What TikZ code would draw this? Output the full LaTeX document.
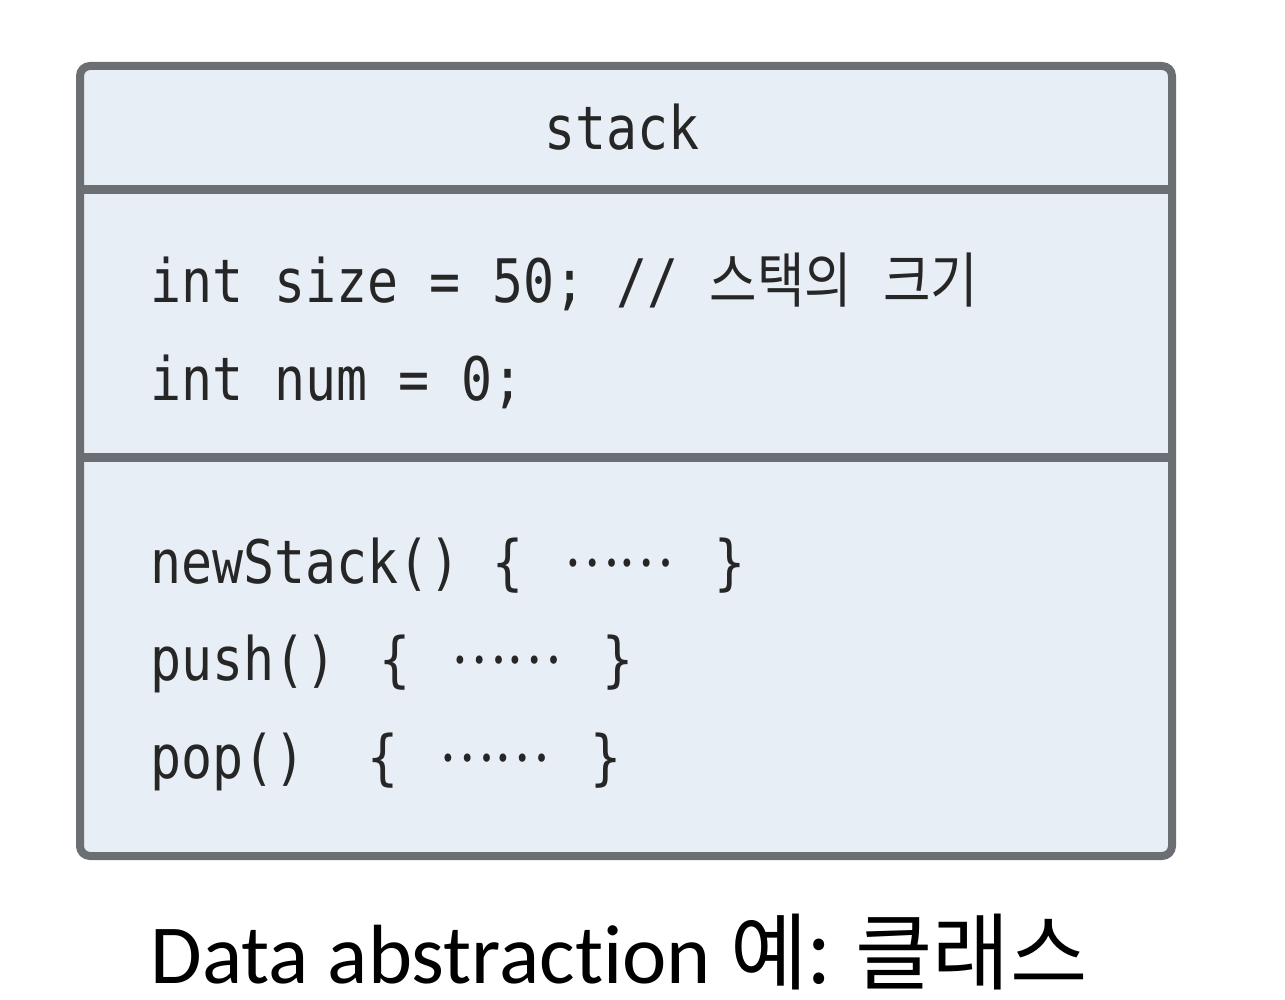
\documentclass[tikz,border=0pt]{standalone}
\usepackage{fontspec}
\setmainfont{Carlito}[Ligatures=NoCommon]
\newfontfamily\codefont[FakeStretch=0.86]{DejaVu Sans Mono}
\newfontfamily\korfont{Noto Sans CJK KR}
\newfontfamily\codekor[FakeStretch=0.86]{Noto Sans CJK KR}
\newcommand{\kr}[1]{{\codekor #1}}
\newcommand{\codedots}{\hspace{5pt}\raisebox{0.28em}{\kr{……}}\hspace{5pt}}

\definecolor{boxfill}{HTML}{E8EEF5}
\definecolor{boxline}{HTML}{6B6E72}
\definecolor{codetext}{HTML}{262626}

\tikzset{
  codeline/.style={anchor=base west, inner sep=0pt, text=codetext,
    font=\fontsize{30}{36}\codefont},
  divider/.style={boxline, line width=4.5pt},
}

\begin{document}
\begin{tikzpicture}[x=0.5pt, y=-0.5pt]
  \useasboundingbox (0,0) rectangle (1285,1000);

  % class box
  \draw[boxline, line width=4pt, fill=boxfill, rounded corners=5pt]
    (80,66) rectangle (1172,856);
  \draw[divider] (80,190) -- (1172,190);
  \draw[divider] (80,457) -- (1172,457);

  % name
  \node[codeline, anchor=base] (name) at (622,150) {stack};

  % fields
  \node[codeline] (size) at (150,302) {int size = 50; // \kr{스택의} \kr{크기}};
  \node[codeline] (num) at (150,400) {int num = 0;};

  % methods
  \node[codeline] (newstack) at (150,583) {newStack() \{ \codedots{} \}};
  \node[codeline] (push) at (150,680) {push()\hspace{6pt} \{ \codedots{} \}};
  \node[codeline] (pop) at (150,778) {pop() \ \{ \codedots{} \}};

  % caption
  \node[anchor=base west, inner sep=0pt, font=\fontsize{42}{50}\selectfont]
    (caption) at (150,983) {Data abstraction {\korfont 예: 클래스}};
\end{tikzpicture}
\end{document}
